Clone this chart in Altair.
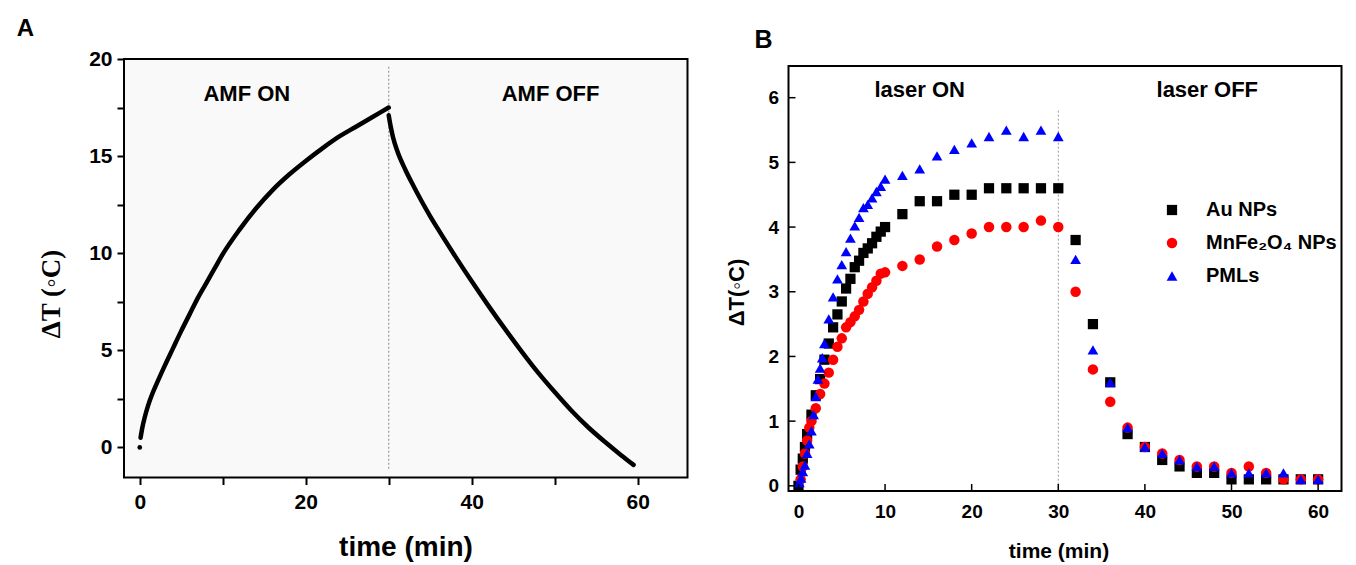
import altair as alt
import pandas as pd

FONT = "Liberation Sans, DejaVu Sans, sans-serif"
SERIF = "Liberation Serif, DejaVu Serif, serif"

# ---------------- Panel A data (AMF heating / cooling) ----------------
a_heat_t = [0.1, 0.3, 0.6, 1, 1.5, 2, 3, 4, 5, 6, 7, 8, 9, 10, 12, 14, 16, 18, 20, 22, 24, 26, 28, 30]
a_heat_v = [0.5, 1.0, 1.55, 2.15, 2.75, 3.25, 4.2, 5.1, 6.0, 6.85, 7.7, 8.45, 9.2, 9.95, 11.2, 12.3, 13.25,
            14.05, 14.75, 15.4, 16.0, 16.5, 17.0, 17.5]
a_cool_t = [30, 30.2, 30.5, 31, 32, 33, 34, 35, 36, 38, 40, 42, 44, 46, 48, 50, 52, 54, 56, 58, 59.5]
a_cool_v = [17.1, 16.6, 16.0, 15.3, 14.3, 13.45, 12.65, 11.9, 11.2, 9.85, 8.55, 7.3, 6.1, 4.95, 3.85, 2.85,
            1.9, 1.05, 0.3, -0.4, -0.9]
a_start_t = [0]
a_start_v = [0]
a_switch_t = [30]
a_switch_top = [19.6]
a_switch_bottom = [-1.1]
a_region_labels = ["AMF ON", "AMF OFF"]
a_region_t = [12.9, 49.5]
a_region_v = [18.2, 18.2]
a_xticks = [0, 10, 20, 30, 40, 50, 60]
a_yticks = [0, 2.5, 5, 7.5, 10, 12.5, 15, 17.5, 20]

# ---------------- Panel B data (laser heating / cooling) ----------------
series = ["Au NPs", "MnFe\u2082O\u2084 NPs", "PMLs"]
au_t = [0, 0.25, 0.5, 0.75, 1, 1.5, 2, 2.5, 3, 3.5, 4, 4.5, 5, 5.5, 6, 6.5, 7, 7.5, 8, 8.5, 9, 9.5, 10,
        12, 14, 16, 18, 20, 22, 24, 26, 28, 30,
        32, 34, 36, 38, 40, 42, 44, 46, 48, 50, 52, 54, 56, 58, 60]
au_v = [0.0, 0.25, 0.42, 0.6, 0.8, 1.1, 1.4, 1.65, 1.95, 2.2, 2.45, 2.65, 2.85, 3.05, 3.2, 3.38, 3.48, 3.6,
        3.67, 3.75, 3.85, 3.93, 4.0,
        4.2, 4.4, 4.4, 4.5, 4.5, 4.6, 4.6, 4.6, 4.6, 4.6,
        3.8, 2.5, 1.6, 0.8, 0.6, 0.4, 0.3, 0.2, 0.2, 0.1, 0.1, 0.1, 0.1, 0.1, 0.1]
mn_t = [0.25, 0.5, 0.75, 1, 1.25, 1.5, 2, 2.5, 3, 3.5, 4, 4.5, 5, 5.5, 6, 6.5, 7, 7.5, 8, 8.5, 9, 9.5, 10,
        12, 14, 16, 18, 20, 22, 24, 26, 28, 30,
        32, 34, 36, 38, 40, 42, 44, 46, 48, 50, 52, 54, 56, 58, 60]
mn_v = [0.1, 0.3, 0.5, 0.7, 0.9, 1.0, 1.2, 1.42, 1.58, 1.75, 1.95, 2.15, 2.28, 2.45, 2.53, 2.62, 2.72, 2.85,
        2.97, 3.07, 3.17, 3.28, 3.3,
        3.4, 3.5, 3.7, 3.8, 3.9, 4.0, 4.0, 4.0, 4.1, 4.0,
        3.0, 1.8, 1.3, 0.9, 0.6, 0.5, 0.4, 0.3, 0.3, 0.2, 0.3, 0.2, 0.1, 0.1, 0.1]
pml_t = [0.1, 0.3, 0.5, 0.75, 1, 1.25, 1.5, 1.75, 2, 2.25, 2.5, 2.75, 3, 3.5, 4, 4.5, 5, 5.5, 6, 6.5, 7, 7.5,
         8, 8.5, 9, 9.5, 10,
         12, 14, 16, 18, 20, 22, 24, 26, 28, 30,
         32, 34, 36, 38, 40, 42, 44, 46, 48, 50, 52, 54, 56, 58, 60]
pml_v = [0.05, 0.12, 0.22, 0.32, 0.5, 0.65, 0.85, 1.1, 1.38, 1.65, 1.82, 1.98, 2.2, 2.58, 2.92, 3.2, 3.42,
         3.62, 3.83, 4.02, 4.15, 4.3, 4.35, 4.45, 4.55, 4.63, 4.74,
         4.8, 4.9, 5.1, 5.2, 5.3, 5.4, 5.5, 5.4, 5.5, 5.4,
         3.5, 2.1, 1.6, 0.9, 0.6, 0.5, 0.4, 0.3, 0.3, 0.2, 0.2, 0.2, 0.2, 0.1, 0.1]
b_switch_t = [30]
b_switch_top = [5.8]
b_switch_bottom = [-0.08]
b_region_labels = ["laser ON", "laser OFF"]
b_region_t = [14.0, 47.2]
b_region_v = [6.12, 6.12]
b_xticks = [0, 10, 20, 30, 40, 50, 60]
b_yticks = [0, 1, 2, 3, 4, 5, 6]
panel_letters = ["A", "B"]

# ---------------- sizes ----------------
W_A, H_A = 563.5, 418.5
W_B, H_B = 553, 425

# ================= Panel A =================
xA = alt.X("t:Q", scale=alt.Scale(domain=[-1.9, 66], nice=False, zero=False),
           axis=alt.Axis(values=a_xticks, labelExpr="datum.value % 20 == 0 ? datum.label : ''",
                         title="time (min)", domain=False, grid=False, ticks=True, tickSize=7,
                         tickWidth=2, tickColor="black", labelFont=FONT, labelFontSize=21,
                         labelFontWeight="bold", labelColor="black", labelPadding=7,
                         labelOverlap=False, labelFlush=False, titleFont=FONT, titleFontSize=28,
                         titleFontWeight="bold", titleColor="black", titleX=281.5, titleY=70,
                         titleBaseline="middle", zindex=1))
yA = alt.Y("v:Q", scale=alt.Scale(domain=[-1.55, 20], nice=False, zero=False),
           axis=alt.Axis(values=a_yticks, labelExpr="datum.value % 5 == 0 ? datum.label : ''",
                         title="\u0394T (\u25e6C)", domain=False, grid=False, ticks=True, tickSize=7,
                         tickWidth=2, tickColor="black", labelFont=FONT, labelFontSize=21,
                         labelFontWeight="bold", labelColor="black", labelPadding=5,
                         labelOverlap=False, labelFlush=False, titleFont=SERIF, titleFontSize=27,
                         titleFontWeight="bold", titleColor="black", titleX=-72.5, titleY=234.5,
                         titleBaseline="middle", titleAlign="center", zindex=1))

dfA_line = pd.DataFrame({
    "t": a_heat_t + a_cool_t,
    "v": a_heat_v + a_cool_v,
    "seg": ["heat"] * len(a_heat_t) + ["cool"] * len(a_cool_t),
})
dfA_start = pd.DataFrame({"t": a_start_t, "v": a_start_v})
dfA_switch = pd.DataFrame({"t": a_switch_t, "v": a_switch_top, "v2": a_switch_bottom})
dfA_text = pd.DataFrame({"t": a_region_t, "v": a_region_v, "label": a_region_labels})
dfA_letter = pd.DataFrame({"letter": [panel_letters[0]]})

a_bounds = alt.Chart(dfA_letter).mark_rect(opacity=0).encode(
    x=alt.value(-114.5), x2=alt.value(0), y=alt.value(-49.5), y2=alt.value(0))
a_switch = alt.Chart(dfA_switch).mark_rule(color="#9a9a9a", strokeDash=[2, 2], strokeWidth=1.2).encode(
    x=xA, y=yA, y2="v2:Q")
a_line = alt.Chart(dfA_line).mark_line(color="black", strokeWidth=4.5, strokeCap="round",
                                       strokeJoin="round", interpolate="monotone").encode(
    x=xA, y=yA, detail="seg:N", order="t:Q")
a_dot = alt.Chart(dfA_start).mark_circle(color="black", size=22, opacity=1).encode(x=xA, y=yA)
a_text = alt.Chart(dfA_text).mark_text(font=FONT, fontSize=22, fontWeight="bold", color="black",
                                       align="center", baseline="middle").encode(
    x=xA, y=yA, text="label:N")
a_letter = alt.Chart(dfA_letter).mark_text(font=FONT, fontSize=24, fontWeight="bold", color="black",
                                           align="center", baseline="middle").encode(
    x=alt.value(-98.5), y=alt.value(-30.5), text="letter:N")

chartA = alt.layer(a_bounds, a_switch, a_line, a_dot, a_text, a_letter).properties(
    width=W_A, height=H_A,
    view=alt.ViewBackground(stroke="black", strokeWidth=2, fill="#f9f9f9"))

# ================= Panel B =================
xB = alt.X("t:Q", scale=alt.Scale(domain=[-1.15, 62.7], nice=False, zero=False),
           axis=alt.Axis(values=b_xticks, title="time (min)", domain=False, grid=False, ticks=False,
                         labelFont=FONT, labelFontSize=19, labelFontWeight="bold", labelColor="black",
                         labelPadding=11, labelOverlap=False, labelFlush=False, titleFont=FONT,
                         titleFontSize=21, titleFontWeight="bold", titleColor="black", titleX=270,
                         titleY=60, titleBaseline="middle"))
yB = alt.Y("v:Q", scale=alt.Scale(domain=[-0.08, 6.49], nice=False, zero=False),
           axis=alt.Axis(values=b_yticks, title="\u0394T(\u25e6C)", domain=False, grid=False, ticks=False,
                         labelFont=FONT, labelFontSize=19, labelFontWeight="bold", labelColor="black",
                         labelPadding=10, labelOverlap=False, labelFlush=False, titleFont=FONT,
                         titleFontSize=22, titleFontWeight="bold", titleColor="black", titleX=-52,
                         titleY=226, titleBaseline="middle", titleAlign="center"))

dfB_pts = pd.DataFrame({
    "t": au_t + mn_t + pml_t,
    "v": au_v + mn_v + pml_v,
    "s": [series[0]] * len(au_t) + [series[1]] * len(mn_t) + [series[2]] * len(pml_t),
})
dfB_switch = pd.DataFrame({"t": b_switch_t, "v": b_switch_top, "v2": b_switch_bottom})
dfB_text = pd.DataFrame({"t": b_region_t, "v": b_region_v, "label": b_region_labels})
dfB_xt = pd.DataFrame({"t": b_xticks})
dfB_yt = pd.DataFrame({"v": b_yticks})
dfB_letter = pd.DataFrame({"letter": [panel_letters[1]]})

legB = alt.Legend(title=None, orient="none", legendX=1038, legendY=141, padding=0,
                  labelFont=FONT, labelFontSize=20, labelFontWeight="bold", labelColor="black",
                  symbolSize=110, symbolStrokeWidth=0, rowPadding=13, labelOffset=24,
                  labelLimit=300)

b_switch = alt.Chart(dfB_switch).mark_rule(color="#9a9a9a", strokeDash=[2, 2], strokeWidth=1).encode(
    x=xB, y=yB, y2="v2:Q")
b_pts = alt.Chart(dfB_pts).mark_point(filled=True, opacity=1, strokeWidth=0).encode(
    x=xB, y=yB,
    color=alt.Color("s:N", scale=alt.Scale(domain=series, range=["#000000", "#ff0000", "#0000ff"]),
                    legend=legB),
    shape=alt.Shape("s:N", scale=alt.Scale(domain=series, range=["square", "circle", "triangle-up"]),
                    legend=legB),
    size=alt.Size("s:N", scale=alt.Scale(domain=series, range=[105, 115, 150]), legend=None),
)
b_xticks_m = alt.Chart(dfB_xt).mark_rule(color="black", strokeWidth=1.5).encode(
    x=xB, y=alt.value(H_B), y2=alt.value(H_B - 7))
b_yticks_m = alt.Chart(dfB_yt).mark_rule(color="black", strokeWidth=1.5).encode(
    y=yB, x=alt.value(0), x2=alt.value(7))
b_text = alt.Chart(dfB_text).mark_text(font=FONT, fontSize=22, fontWeight="bold", color="black",
                                       align="center", baseline="middle").encode(
    x=xB, y=yB, text="label:N")
b_letter = alt.Chart(dfB_letter).mark_text(font=FONT, fontSize=25, fontWeight="bold", color="black",
                                           align="center", baseline="middle").encode(
    x=alt.value(-25), y=alt.value(-26), text="letter:N")

chartB = alt.layer(b_switch, b_pts, b_xticks_m, b_yticks_m, b_text, b_letter).properties(
    width=W_B, height=H_B,
    view=alt.ViewBackground(stroke="black", strokeWidth=2, fill="white"))

spacer = alt.Chart(dfB_letter).mark_point(opacity=0).encode(
    x=alt.value(0), y=alt.value(0)).properties(
    width=W_B, height=6.5, view=alt.ViewBackground(stroke="transparent"))

right = alt.vconcat(spacer, chartB, spacing=0, bounds="flush")
chart = alt.hconcat(chartA, right, spacing=100.5, bounds="flush").properties(
    padding=0, background="white")

chart.save("out.html", embed_options={"renderer": "svg", "actions": False})
